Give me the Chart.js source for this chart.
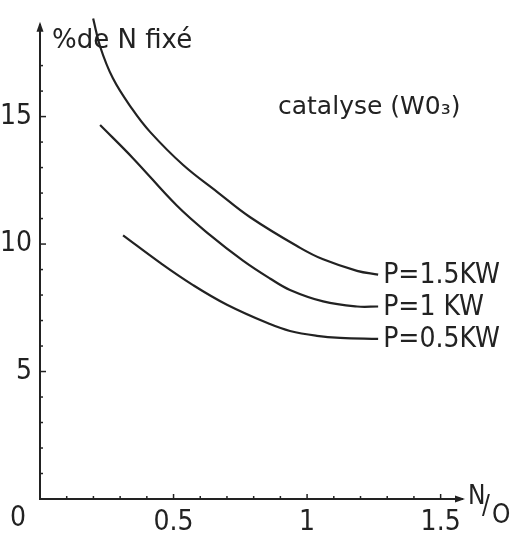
<!DOCTYPE html>
<html>
<head>
<meta charset="utf-8">
<script src="https://cdn.jsdelivr.net/npm/chart.js@4.4.1/dist/chart.umd.min.js"></script>
<style>
  html, body { margin: 0; padding: 0; background: #fff; }
  canvas { display: block; }
</style>
</head>
<body>
<canvas id="fixChart" width="515" height="533"></canvas>
<script>
// N/O ratio (x) and % of N fixed (y)
const ratioP15 = [0.199, 0.225, 0.273, 0.345, 0.412, 0.536, 0.663, 0.787, 0.974, 1.06, 1.187, 1.266];
const fixedP15 = [18.85, 17.75, 16.5, 15.3, 14.4, 13.1, 12.05, 11.05, 9.85, 9.4, 8.95, 8.8];

const ratioP10 = [0.225, 0.348, 0.513, 0.637, 0.76, 0.861, 0.936, 1.06, 1.187, 1.266];
const fixedP10 = [14.67, 13.37, 11.5, 10.35, 9.35, 8.65, 8.2, 7.75, 7.55, 7.55];

const ratioP05 = [0.311, 0.449, 0.573, 0.70, 0.861, 0.936, 1.037, 1.124, 1.266];
const fixedP05 = [10.34, 9.27, 8.39, 7.62, 6.86, 6.59, 6.4, 6.32, 6.28];

const curveLabels = ['P=1.5KW', 'P=1 KW', 'P=0.5KW'];
const xTickValues = [0.5, 1, 1.5];
const xTickLabels = ['0.5', '1', '1.5'];
const yTickValues = [5, 10, 15];
const yTickLabels = ['5', '10', '15'];

const ink = '#222';
const narrow = "'Liberation Sans Narrow', 'DejaVu Sans Condensed', 'Liberation Sans', sans-serif";
const wide = "'DejaVu Sans', 'Liberation Sans', sans-serif";

function toPoints(xs, ys) {
    return xs.map((x, i) => ({ x: x, y: ys[i] }));
}

function curve(label, xs, ys) {
    return {
        label: label,
        data: toPoints(xs, ys),
        borderColor: ink,
        backgroundColor: ink,
        borderWidth: 2.2,
        pointRadius: 0,
        fill: false,
        tension: 0.4
    };
}

// ticks, arrows and hand-lettered texts
const decorations = {
    id: 'decorations',
    afterDraw(chart) {
        const c = chart.ctx;
        const xs = chart.scales.x;
        const ys = chart.scales.y;
        const x0 = xs.getPixelForValue(0);
        const y0 = ys.getPixelForValue(0);
        c.save();
        c.strokeStyle = ink;
        c.fillStyle = ink;
        c.lineWidth = 1.5;

        // y ticks, pointing right
        for (let v = 1; v <= 17; v++) {
            const py = ys.getPixelForValue(v);
            const len = v % 5 === 0 ? 6 : 3;
            c.beginPath();
            c.moveTo(x0, py);
            c.lineTo(x0 + len, py);
            c.stroke();
        }
        // x ticks, pointing up
        for (let i = 1; i <= 15; i++) {
            const px = xs.getPixelForValue(i / 10);
            const len = i % 5 === 0 ? 5 : 3;
            c.beginPath();
            c.moveTo(px, y0);
            c.lineTo(px, y0 - len);
            c.stroke();
        }

        // arrow heads
        const top = chart.chartArea.top;
        c.beginPath();
        c.moveTo(x0, top - 3);
        c.lineTo(x0 - 3.5, top + 7);
        c.lineTo(x0 + 3.5, top + 7);
        c.closePath();
        c.fill();
        const right = chart.chartArea.right;
        c.beginPath();
        c.moveTo(right + 3, y0);
        c.lineTo(right - 7, y0 - 3.5);
        c.lineTo(right - 7, y0 + 3.5);
        c.closePath();
        c.fill();

        // curve labels at the end of each curve
        c.font = '28px ' + narrow;
        c.textAlign = 'left';
        c.textBaseline = 'middle';
        chart.data.datasets.forEach((ds, i) => {
            const pts = chart.getDatasetMeta(i).data;
            const last = pts[pts.length - 1];
            c.fillText(curveLabels[i], last.x + 5, last.y + 1);
        });

        // origin label
        c.textAlign = 'center';
        c.fillText('0', x0 - 22, y0 + 20);

        // axis name N/O
        c.font = '26px ' + narrow;
        c.textAlign = 'left';
        c.fillText('N', right + 6, y0 - 2);
        c.fillText('/', right + 20, y0 + 8);
        c.fillText('O', right + 30, y0 + 17);

        // titles
        c.font = '26px ' + wide;
        c.fillText('%de N fixé', 52, 41);
        c.font = '25px ' + wide;
        c.fillText('catalyse (W0₃)', 278, 107);
        c.restore();
    }
};

const ctx = document.getElementById('fixChart').getContext('2d');

const fixChart = new Chart(ctx, {
    type: 'line',
    data: {
        datasets: [
            curve(curveLabels[0], ratioP15, fixedP15),
            curve(curveLabels[1], ratioP10, fixedP10),
            curve(curveLabels[2], ratioP05, fixedP05)
        ]
    },
    options: {
        responsive: false,
        animation: false,
        clip: false,
        layout: { padding: { top: 13, right: 53, left: 0, bottom: 0 } },
        plugins: {
            legend: { display: false },
            tooltip: { enabled: false }
        },
        scales: {
            x: {
                type: 'linear',
                min: 0,
                max: 1.58,
                grid: { display: false, drawTicks: false },
                border: { color: ink, width: 2 },
                afterBuildTicks: s => { s.ticks = xTickValues.map(v => ({ value: v })); },
                ticks: {
                    autoSkip: false,
                    maxRotation: 0,
                    padding: 7,
                    color: ink,
                    font: { family: narrow, size: 28 },
                    callback: v => xTickLabels[xTickValues.indexOf(v)]
                },
                afterFit: s => { s.height = 34; }
            },
            y: {
                min: 0,
                max: 18.6,
                grid: { display: false, drawTicks: false },
                border: { color: ink, width: 2 },
                afterBuildTicks: s => { s.ticks = yTickValues.map(v => ({ value: v })); },
                ticks: {
                    autoSkip: false,
                    padding: 8,
                    color: ink,
                    font: { family: narrow, size: 28 },
                    callback: v => yTickLabels[yTickValues.indexOf(v)]
                },
                afterFit: s => { s.width = 40; }
            }
        }
    },
    plugins: [decorations]
});
</script>
</body>
</html>
